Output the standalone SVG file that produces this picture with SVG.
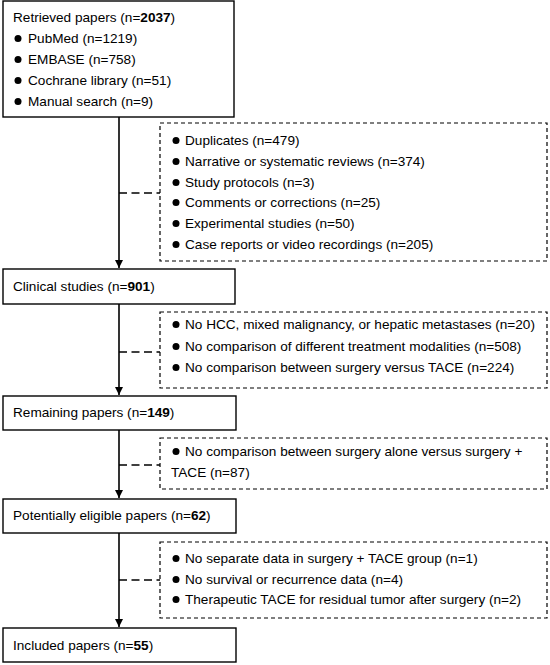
<svg xmlns="http://www.w3.org/2000/svg" width="550" height="665" viewBox="0 0 550 665">
<style>
text{font-family:"Liberation Sans",Arial,sans-serif;font-size:13.6px;fill:#000}
.b{font-weight:bold}
.box{fill:#fff;stroke:#000;stroke-width:1.4}
.dbox{fill:#fff;stroke:#000;stroke-width:1.2;stroke-dasharray:4 3}
.main{stroke:#000;stroke-width:1.6;fill:none}
.dash{stroke:#000;stroke-width:1.6;fill:none;stroke-dasharray:8 4.5}
.dot{fill:#000}
</style>
<defs>
<marker id="arr" viewBox="0 0 10 10" refX="10" refY="5" markerWidth="8" markerHeight="8" markerUnits="userSpaceOnUse" orient="auto">
<path d="M0,0 L10,5 L0,10 z" fill="#000"/>
</marker>
</defs>
<g id="connectors">
<line class="main" x1="119" y1="117" x2="119" y2="268" marker-end="url(#arr)"/>
<line class="main" x1="119" y1="304" x2="119" y2="395" marker-end="url(#arr)"/>
<line class="main" x1="119" y1="430" x2="119" y2="498" marker-end="url(#arr)"/>
<line class="main" x1="119" y1="533" x2="119" y2="627" marker-end="url(#arr)"/>
<line class="dash" x1="119" y1="193" x2="160" y2="193"/>
<line class="dash" x1="119" y1="352" x2="160" y2="352"/>
<line class="dash" x1="119" y1="465" x2="160" y2="465"/>
<line class="dash" x1="119" y1="580" x2="160" y2="580"/>
</g>
<g id="retrieved">
<rect class="box" x="3" y="1" width="231" height="116"/>
<text x="13" y="22">Retrieved papers (n=<tspan class="b">2037</tspan>)</text>
<circle class="dot" cx="18" cy="38.5" r="3.5"/><text x="28" y="43">PubMed (n=1219)</text>
<circle class="dot" cx="18" cy="59.5" r="3.5"/><text x="28" y="64">EMBASE (n=758)</text>
<circle class="dot" cx="18" cy="80.5" r="3.5"/><text x="28" y="85">Cochrane library (n=51)</text>
<circle class="dot" cx="18" cy="101.5" r="3.5"/><text x="28" y="106">Manual search (n=9)</text>
</g>
<g id="excluded1">
<rect class="dbox" x="160" y="123" width="387" height="138"/>
<circle class="dot" cx="176" cy="140.5" r="3.5"/><text x="185" y="145">Duplicates (n=479)</text>
<circle class="dot" cx="176" cy="161.5" r="3.5"/><text x="185" y="166">Narrative or systematic reviews (n=374)</text>
<circle class="dot" cx="176" cy="182.5" r="3.5"/><text x="185" y="187">Study protocols (n=3)</text>
<circle class="dot" cx="176" cy="202.5" r="3.5"/><text x="185" y="207">Comments or corrections (n=25)</text>
<circle class="dot" cx="176" cy="223.5" r="3.5"/><text x="185" y="228">Experimental studies (n=50)</text>
<circle class="dot" cx="176" cy="244.5" r="3.5"/><text x="185" y="249">Case reports or video recordings (n=205)</text>
</g>
<g id="clinical">
<rect class="box" x="3" y="269" width="232" height="35"/>
<text x="13" y="291">Clinical studies (n=<tspan class="b">901</tspan>)</text>
</g>
<g id="excluded2">
<rect class="dbox" x="160" y="312" width="387" height="76"/>
<circle class="dot" cx="176" cy="324.5" r="3.5"/><text x="185" y="329">No HCC, mixed malignancy, or hepatic metastases (n=20)</text>
<circle class="dot" cx="176" cy="346.5" r="3.5"/><text x="185" y="351">No comparison of different treatment modalities (n=508)</text>
<circle class="dot" cx="176" cy="367.5" r="3.5"/><text x="185" y="372">No comparison between surgery versus TACE (n=224)</text>
</g>
<g id="remaining">
<rect class="box" x="3" y="396" width="233" height="34"/>
<text x="13" y="417">Remaining papers (n=<tspan class="b">149</tspan>)</text>
</g>
<g id="excluded3">
<rect class="dbox" x="160" y="438" width="387" height="51"/>
<circle class="dot" cx="176" cy="451.5" r="3.5"/><text x="185" y="456">No comparison between surgery alone versus surgery +</text>
<text x="171" y="477">TACE (n=87)</text>
</g>
<g id="eligible">
<rect class="box" x="3" y="499" width="233" height="34"/>
<text x="13" y="520">Potentially eligible papers (n=<tspan class="b">62</tspan>)</text>
</g>
<g id="excluded4">
<rect class="dbox" x="160" y="542" width="387" height="76"/>
<circle class="dot" cx="176" cy="558.5" r="3.5"/><text x="185" y="563">No separate data in surgery + TACE group (n=1)</text>
<circle class="dot" cx="176" cy="579.5" r="3.5"/><text x="185" y="584">No survival or recurrence data (n=4)</text>
<circle class="dot" cx="176" cy="599.5" r="3.5"/><text x="185" y="604">Therapeutic TACE for residual tumor after surgery (n=2)</text>
</g>
<g id="included">
<rect class="box" x="3" y="628" width="233" height="34"/>
<text x="13" y="650">Included papers (n=<tspan class="b">55</tspan>)</text>
</g>
</svg>
